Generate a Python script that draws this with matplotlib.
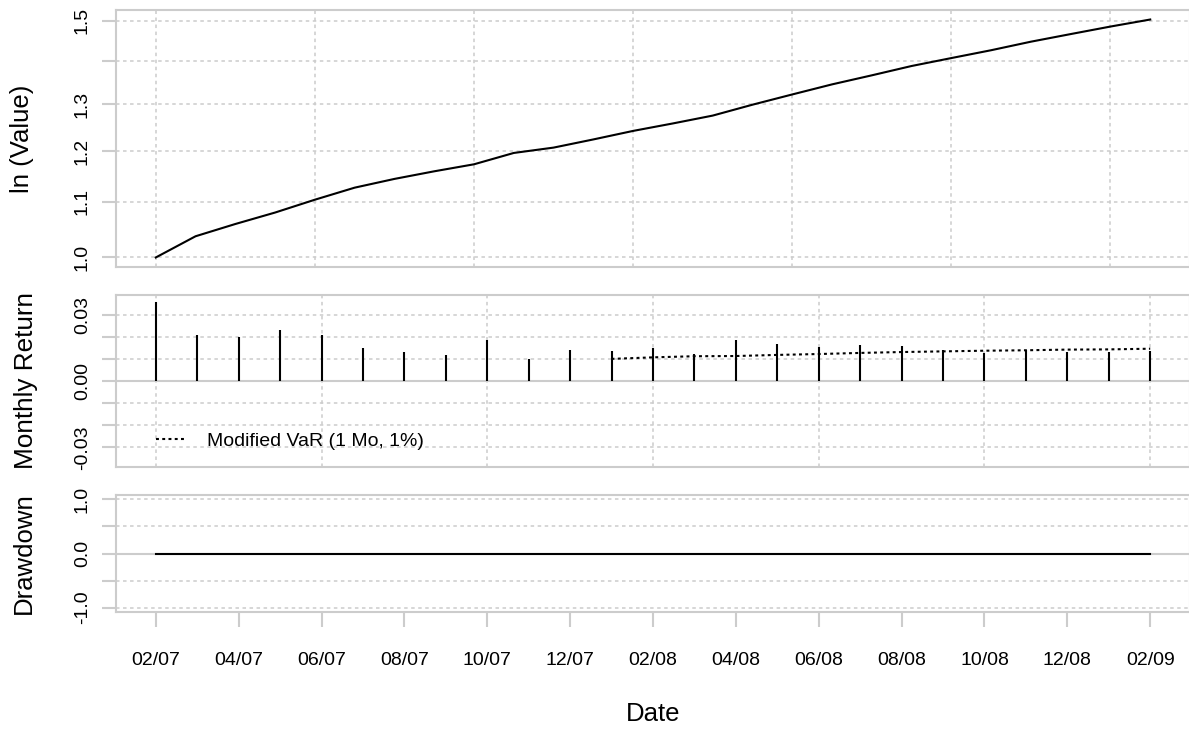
import numpy as np
import matplotlib
matplotlib.use("Agg")
import matplotlib.pyplot as plt
from matplotlib.ticker import NullLocator, FixedLocator

plt.rcParams['font.family'] = ['Liberation Sans', 'DejaVu Sans']

# ---------------- data ----------------
months = ["02/07", "03/07", "04/07", "05/07", "06/07", "07/07", "08/07", "09/07",
          "10/07", "11/07", "12/07", "01/08", "02/08", "03/08", "04/08", "05/08",
          "06/08", "07/08", "08/08", "09/08", "10/08", "11/08", "12/08", "01/09",
          "02/09"]
monthly_returns = [0.0357, 0.0210, 0.0198, 0.0229, 0.0207, 0.0149, 0.0130, 0.0119,
                   0.0185, 0.0100, 0.0139, 0.0137, 0.0149, 0.0124, 0.0184, 0.0166,
                   0.0155, 0.0161, 0.0158, 0.0140, 0.0128, 0.0140, 0.0132, 0.0130,
                   0.0135]
# cumulative value index (starts at 1.0, one extra point)
wealth = [1.000, 1.037, 1.059, 1.080, 1.104, 1.127, 1.144, 1.159, 1.173, 1.196,
          1.207, 1.224, 1.242, 1.258, 1.275, 1.299, 1.322, 1.345, 1.366, 1.388,
          1.407, 1.426, 1.447, 1.466, 1.485, 1.503]
var_months = months[11:]
modified_var = [0.0100, 0.0107, 0.0112, 0.0113, 0.0118, 0.0122, 0.0127, 0.0131,
                0.0134, 0.0137, 0.0139, 0.0142, 0.0143, 0.0146]
drawdown = [0.0] * 25

top_yticks = [1.0, 1.1, 1.2, 1.3, 1.4, 1.5]
top_ylabels = ["1.0", "1.1", "1.2", "1.3", "", "1.5"]
mid_yticks = [-0.03, -0.02, -0.01, 0.00, 0.01, 0.02, 0.03]
mid_ylabels = ["-0.03", "", "", "0.00", "", "", "0.03"]
dd_yticks = [-1.0, -0.5, 0.0, 0.5, 1.0]
dd_ylabels = ["-1.0", "", "0.0", "", "1.0"]

# ---------------- style ----------------
W, H = 1189, 729
GRID = '#cccccc'
grid_kw = dict(color=GRID, linestyle=(0, (2.3, 2.3)), linewidth=1.1)

fig = plt.figure(figsize=(W / 100, H / 100), dpi=100)


def px_axes(left, top, right, bottom):
    return fig.add_axes([left / W, (H - bottom) / H, (right - left) / W, (bottom - top) / H])


ax1 = px_axes(116, 10, 1190, 267)
ax2 = px_axes(116, 295, 1190, 467)
ax3 = px_axes(116, 495, 1190, 612)

for ax in (ax1, ax2, ax3):
    for s in ax.spines.values():
        s.set_color(GRID)
        s.set_linewidth(1.5)
    ax.tick_params(axis='y', which='major', length=10, width=1.5, color=GRID,
                   labelsize=14, labelrotation=90, pad=8)

# ---- top panel: cumulative value (log scale) ----
xw = np.arange(len(wealth))
ax1.plot(xw, wealth, color='black', lw=1.5, zorder=3)
ax1.set_yscale('log')
lo, hi = np.log(min(wealth)), np.log(max(wealth))
ext = (hi - lo) * 0.04
ax1.set_ylim(np.exp(lo - ext), np.exp(hi + ext))
nw = len(wealth) - 1
ax1.set_xlim(-0.04 * nw, nw * 1.04)
ax1.yaxis.set_major_locator(FixedLocator(top_yticks))
ax1.yaxis.set_minor_locator(NullLocator())
ax1.set_yticklabels(top_ylabels, rotation=90, va='center')
ax1.set_xticks(np.arange(0, nw + 1, 4))
ax1.tick_params(axis='x', length=0, labelbottom=False)
ax1.grid(True, **grid_kw)

# ---- middle panel: monthly returns ----
xm = np.arange(len(monthly_returns))
nm = len(monthly_returns) - 1
ax2.axhline(0, color=GRID, lw=1.5, zorder=1)
ax2.vlines(xm, 0, monthly_returns, color='black', lw=1.5, zorder=3)
xv = np.array([months.index(m) for m in var_months])
ax2.plot(xv, modified_var, color='black', lw=1.5, linestyle=(0, (1.4, 1.6)),
         zorder=4, label="Modified VaR (1 Mo, 1%)")
ax2.set_xlim(-0.04 * nm, nm * 1.04)
ax2.set_ylim(-0.0389, 0.0389)
ax2.set_yticks(mid_yticks)
ax2.set_yticklabels(mid_ylabels, rotation=90, va='center')
ax2.set_xticks(np.arange(0, nm + 1, 4))
ax2.tick_params(axis='x', length=0, labelbottom=False)
ax2.grid(True, **grid_kw)
ax2.legend(loc='center left', bbox_to_anchor=((156 - 116) / 1074, (467 - 441) / 172),
           frameon=False, fontsize=14, handlelength=1.6, handletextpad=1.0,
           borderpad=0, borderaxespad=0)

# ---- bottom panel: drawdown ----
ax3.axhline(0, color=GRID, lw=1.5, zorder=1)
ax3.plot(xm, drawdown, color='black', lw=1.5, zorder=3)
ax3.set_xlim(-0.04 * nm, nm * 1.04)
ax3.set_ylim(-1.08, 1.08)
ax3.set_yticks(dd_yticks)
ax3.set_yticklabels(dd_ylabels, rotation=90, va='center')
ax3.xaxis.set_major_locator(FixedLocator(np.arange(0, nm + 1, 2)))
ax3.set_xticklabels(months[::2])
ax3.xaxis.set_minor_locator(FixedLocator(np.arange(0, nm + 1, 4)))
ax3.tick_params(axis='x', which='major', length=10.8, width=1.5, color=GRID,
                labelsize=14, pad=18)
ax3.tick_params(axis='x', which='minor', length=0)
ax3.grid(True, axis='y', **grid_kw)
ax3.grid(True, axis='x', which='minor', **grid_kw)

# ---- axis titles ----
fig.text(22.5 / W, 1 - 139 / H, "ln (Value)", rotation=90, ha='center', va='center', fontsize=18.5)
fig.text(26 / W, 1 - 381 / H, "Monthly Return", rotation=90, ha='center', va='center', fontsize=18.8)
fig.text(24 / W, 1 - 553.5 / H, "Drawdown", rotation=90, ha='center', va='center', fontsize=18.5)
fig.text(653 / W, 1 - 714 / H, "Date", ha='center', va='center', fontsize=18.5)

fig.savefig("out.png", dpi=100)
